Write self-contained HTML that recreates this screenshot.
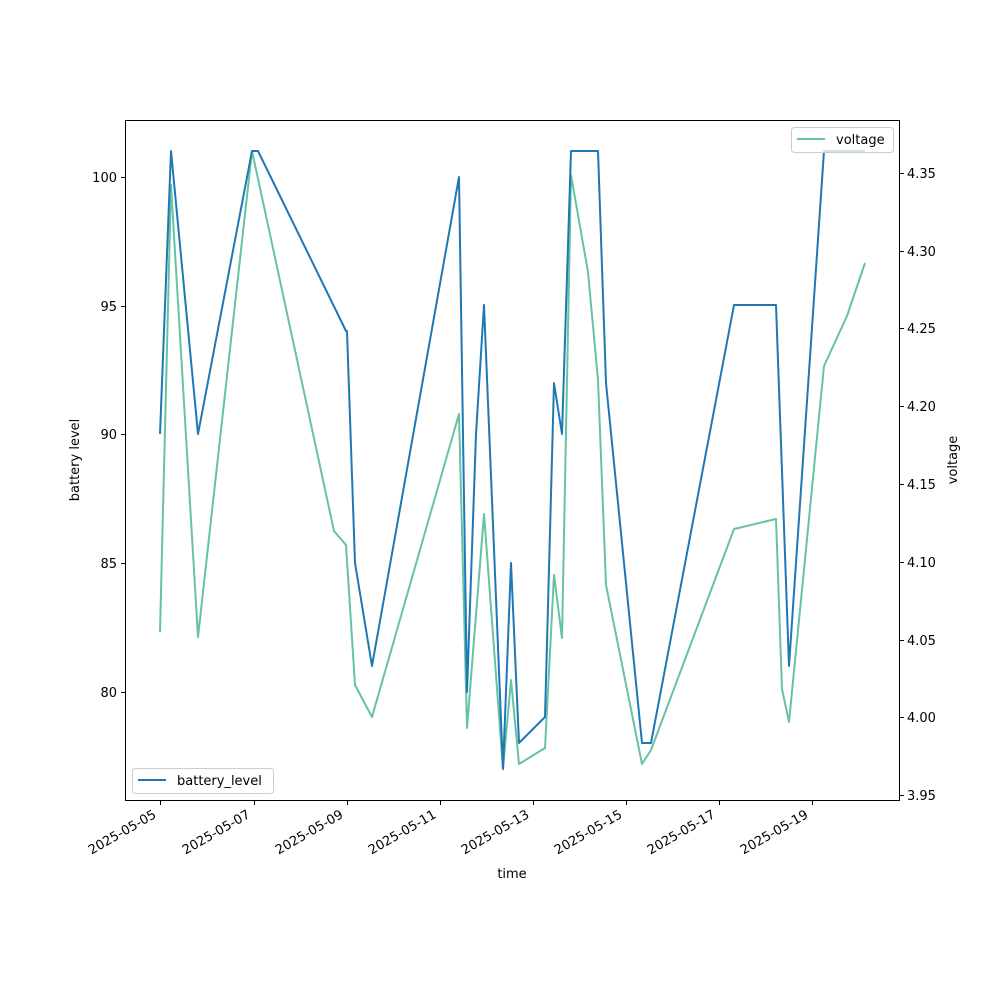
<!DOCTYPE html>
<html><head><meta charset="utf-8"><style>
html,body{margin:0;padding:0;background:#fff}
svg{display:block}
text{font-family:"DejaVu Sans","Liberation Sans",sans-serif;font-size:13px;fill:#000}
</style></head><body>
<svg width="1000" height="1000" viewBox="0 0 1000 1000" xmlns="http://www.w3.org/2000/svg">
<rect x="0" y="0" width="1000" height="1000" fill="#fff"/>
<polyline fill="none" stroke="#66c2a5" stroke-width="2" stroke-linejoin="round" points="160,632 171,185 198,637 252,151 334,531 346,545 355,685 372,717 459,414 467,728 484,514 503,769 511,680 519,764 545,748 554,575 562,638 571,175 588,272 598,380 606,585 642,764 651,750 734,529 776,519 782,689 789,722 824,366 847,316 865,263"/>
<polyline fill="none" stroke="#1f77b4" stroke-width="2" stroke-linejoin="round" points="160,434 171,151 198,434 252,151 258,151 346,331 347,331 355,563 372,666 459,177 467,692 476,434 484,305 503,769 511,563 519,743 545,717 554,383 562,434 571,151 598,151 606,383 642,743 651,743 734,305 776,305 789,666 824,151 865,151"/>
<rect x="125.5" y="120.5" width="774" height="680" fill="none" stroke="#000" stroke-width="1"/>
<g stroke="#000" stroke-width="1">
<line x1="125" y1="177.5" x2="121" y2="177.5"/><line x1="125" y1="306.5" x2="121" y2="306.5"/><line x1="125" y1="434.5" x2="121" y2="434.5"/><line x1="125" y1="563.5" x2="121" y2="563.5"/><line x1="125" y1="692.5" x2="121" y2="692.5"/>
<line x1="900" y1="173.5" x2="904" y2="173.5"/><line x1="900" y1="251.5" x2="904" y2="251.5"/><line x1="900" y1="328.5" x2="904" y2="328.5"/><line x1="900" y1="406.5" x2="904" y2="406.5"/><line x1="900" y1="484.5" x2="904" y2="484.5"/><line x1="900" y1="562.5" x2="904" y2="562.5"/><line x1="900" y1="640.5" x2="904" y2="640.5"/><line x1="900" y1="717.5" x2="904" y2="717.5"/><line x1="900" y1="795.5" x2="904" y2="795.5"/>
<line x1="160.5" y1="801" x2="160.5" y2="805"/><line x1="254.5" y1="801" x2="254.5" y2="805"/><line x1="347.5" y1="801" x2="347.5" y2="805"/><line x1="440.5" y1="801" x2="440.5" y2="805"/><line x1="533.5" y1="801" x2="533.5" y2="805"/><line x1="626.5" y1="801" x2="626.5" y2="805"/><line x1="719.5" y1="801" x2="719.5" y2="805"/><line x1="812.5" y1="801" x2="812.5" y2="805"/>
</g>
<g text-anchor="end">
<text x="117" y="182">100</text><text x="117" y="311">95</text><text x="117" y="439">90</text><text x="117" y="568">85</text><text x="117" y="697">80</text>
</g>
<g>
<text x="907" y="178">4.35</text><text x="907" y="256">4.30</text><text x="907" y="333">4.25</text><text x="907" y="411">4.20</text><text x="907" y="489">4.15</text><text x="907" y="567">4.10</text><text x="907" y="645">4.05</text><text x="907" y="722">4.00</text><text x="907" y="800">3.95</text>
</g>
<g text-anchor="end">
<text transform="translate(157,817) rotate(-30)">2025-05-05</text>
<text transform="translate(251,817) rotate(-30)">2025-05-07</text>
<text transform="translate(344,817) rotate(-30)">2025-05-09</text>
<text transform="translate(437,817) rotate(-30)">2025-05-11</text>
<text transform="translate(530,817) rotate(-30)">2025-05-13</text>
<text transform="translate(623,817) rotate(-30)">2025-05-15</text>
<text transform="translate(716,817) rotate(-30)">2025-05-17</text>
<text transform="translate(809,817) rotate(-30)">2025-05-19</text>
</g>
<text x="512" y="878" text-anchor="middle">time</text>
<text transform="translate(79,460) rotate(-90)" text-anchor="middle">battery level</text>
<text transform="translate(957,460) rotate(-90)" text-anchor="middle">voltage</text>
<rect x="132.5" y="768.5" width="141" height="25" rx="3" fill="#fff" fill-opacity="0.8" stroke="#ccc"/>
<line x1="138" y1="780" x2="166" y2="780" stroke="#1f77b4" stroke-width="2"/>
<text x="177" y="785">battery_level</text>
<rect x="791.5" y="127.5" width="102" height="25" rx="3" fill="#fff" fill-opacity="0.8" stroke="#ccc"/>
<line x1="797" y1="139" x2="825" y2="139" stroke="#66c2a5" stroke-width="2"/>
<text x="836" y="144">voltage</text>
</svg>
</body></html>
